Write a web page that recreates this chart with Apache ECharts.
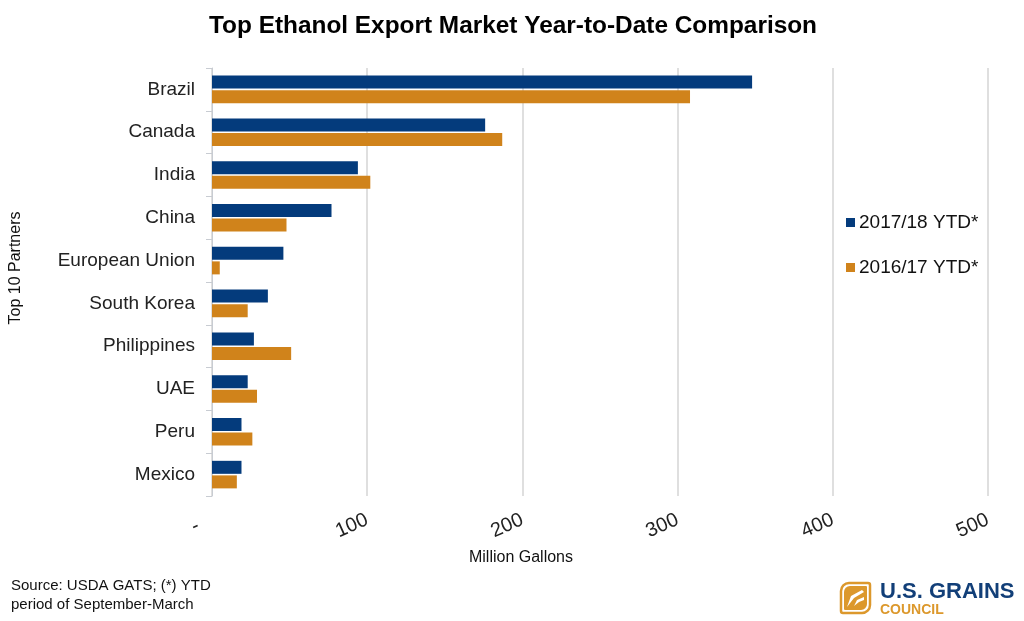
<!DOCTYPE html>
<html>
<head>
<meta charset="utf-8">
<title>Top Ethanol Export Market</title>
<script src="https://cdn.jsdelivr.net/npm/echarts@6/dist/echarts.min.js"></script>
<style>
  html, body { margin: 0; padding: 0; background: #fff; }
  #chart { width: 1024px; height: 621px; }
</style>
</head>
<body>
<div id="chart"></div>
<script>
const partners = ['Brazil', 'Canada', 'India', 'China', 'European Union', 'South Korea', 'Philippines', 'UAE', 'Peru', 'Mexico'];
const ytd1718 = [348, 176, 94, 77, 46, 36, 27, 23, 19, 19];
const ytd1617 = [308, 187, 102, 48, 5, 23, 51, 29, 26, 16];
const seriesNames = ['2017/18 YTD*', '2016/17 YTD*'];
const xTickLabels = ['-', '100', '200', '300', '400', '500'];

const FONT = '"Liberation Sans", Arial, sans-serif';
const NAVY = '#043b7c';
const ORANGE = '#d0831b';
const LOGO_ORANGE = '#dc982c';

const chart = echarts.init(document.getElementById('chart'));
chart.setOption({
    animation: false,
    backgroundColor: '#fff',
    textStyle: { fontFamily: FONT },
    title: {
        text: 'Top Ethanol Export Market Year-to-Date Comparison',
        left: 508, top: 9, textAlign: 'center',
        textStyle: { fontFamily: FONT, fontSize: 24.4, fontWeight: 'bold', color: '#000' }
    },
    legend: {
        orient: 'vertical', left: 841, top: 208, itemGap: 26,
        itemWidth: 9, itemHeight: 9, icon: 'rect',
        textStyle: { fontFamily: FONT, fontSize: 19, color: '#111', padding: [0, 0, 0, -1] },
        data: seriesNames
    },
    grid: { left: 212, right: 36, top: 68, bottom: 125, outerBoundsMode: 'none' },
    xAxis: {
        type: 'value', min: 0, max: 500, interval: 100,
        axisLine: { show: false },
        axisTick: { show: false },
        splitLine: { lineStyle: { color: '#d4d4d4', width: 1.5 } },
        axisLabel: {
            rotate: 24, margin: 23, fontFamily: FONT, fontSize: 20, color: '#222',
            showMinLabel: true, showMaxLabel: true,
            formatter: (v) => v === 0 ? '{dash|' + xTickLabels[0] + '}' : xTickLabels[v / 100],
            rich: { dash: { fontFamily: FONT, fontSize: 20, color: '#222', padding: [0, 15, 0, 0] } }
        }
    },
    yAxis: {
        type: 'category', inverse: true, data: partners,
        axisLine: { lineStyle: { color: '#c8ccd2', width: 1 } },
        axisTick: { show: true, length: 6, lineStyle: { color: '#c8ccd2' } },
        axisLabel: { margin: 17, fontFamily: FONT, fontSize: 19, color: '#222' }
    },
    series: [
        { name: seriesNames[0], type: 'bar', data: ytd1718, barWidth: 13, barGap: '12%', itemStyle: { color: NAVY } },
        { name: seriesNames[1], type: 'bar', data: ytd1617, barWidth: 13, barGap: '12%', itemStyle: { color: ORANGE } }
    ],
    graphic: [
        { type: 'text', x: 521, y: 558, style: { text: 'Million Gallons', font: '16px ' + FONT, fill: '#111', align: 'center', verticalAlign: 'middle' } },
        { type: 'text', x: 16, y: 268, rotation: Math.PI / 2, style: { text: 'Top 10 Partners', font: '16px ' + FONT, fill: '#111', align: 'center', verticalAlign: 'middle' } },
        { type: 'text', x: 11, y: 576, style: { text: 'Source: USDA GATS; (*) YTD\nperiod of September-March', font: '15px ' + FONT, fill: '#111', lineHeight: 19 } },
        // logo
        { type: 'rect', z: 10, shape: { x: 841, y: 583, width: 29, height: 30, r: [8, 2, 8, 2] }, style: { fill: '#fff', stroke: LOGO_ORANGE, lineWidth: 2.5 } },
        { type: 'rect', z: 11, shape: { x: 844, y: 586, width: 23, height: 24, r: [6, 1, 6, 1] }, style: { fill: LOGO_ORANGE, stroke: null } },
        { type: 'polygon', z: 12, shape: { points: [[847, 607], [851, 596], [862, 590], [864, 592], [854, 598]] }, style: { fill: '#fff', stroke: null } },
        { type: 'polygon', z: 12, shape: { points: [[854, 606], [857, 600], [864, 597], [864, 600], [859, 602]] }, style: { fill: '#fff', stroke: null } },
        { type: 'text', x: 880, y: 581, style: { text: 'U.S. GRAINS', font: 'bold 22px ' + FONT, fill: '#123f78' } },
        { type: 'text', x: 880, y: 603, style: { text: 'COUNCIL', font: 'bold 14px ' + FONT, fill: LOGO_ORANGE } }
    ]
});
</script>
</body>
</html>
